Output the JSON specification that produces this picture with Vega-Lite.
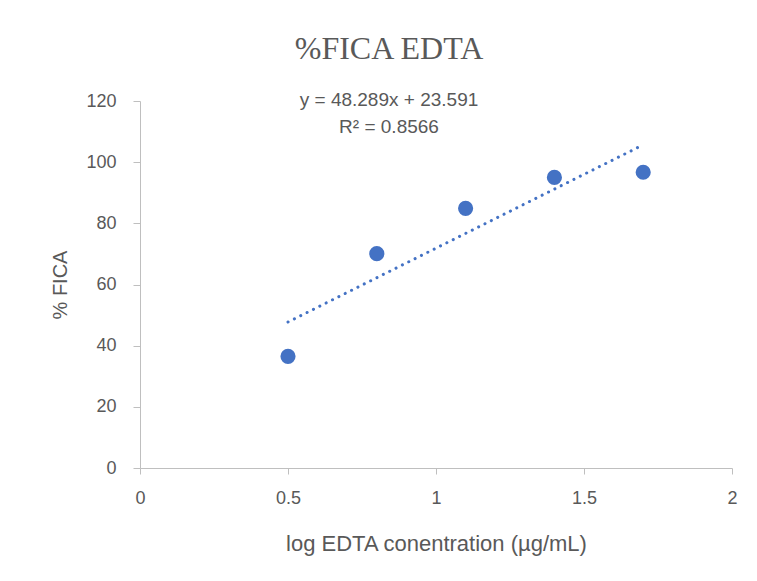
{
  "$schema": "https://vega.github.io/schema/vega-lite/v6.json",
  "width": 592,
  "height": 367,
  "autosize": {"type": "none"},
  "padding": {"left": 140, "top": 101, "right": 25, "bottom": 113},
  "background": "white",
  "title": {
    "text": "%FICA EDTA",
    "subtitle": ["y = 48.289x + 23.591", "R² = 0.8566"],
    "font": "Liberation Serif",
    "fontSize": 32,
    "fontWeight": "normal",
    "color": "#595959",
    "subtitleFont": "Liberation Sans",
    "subtitleFontSize": 19,
    "subtitleColor": "#595959",
    "subtitleLineHeight": 27,
    "subtitlePadding": 25,
    "anchor": "middle",
    "dx": -47,
    "offset": -46
  },
  "config": {"view": {"stroke": null}},
  "layer": [
    {
      "data": {"values": [
        {"x": 0.5, "y": 47.74},
        {"x": 1.7, "y": 105.68}
      ]},
      "mark": {"type": "line", "color": "#4472C4", "strokeWidth": 3, "strokeDash": [0.1, 7], "strokeCap": "round"},
      "encoding": {
        "x": {"field": "x", "type": "quantitative"},
        "y": {"field": "y", "type": "quantitative"}
      }
    },
    {
      "data": {"values": [
        {"x": 0.5, "y": 36.5},
        {"x": 0.8, "y": 70.1},
        {"x": 1.1, "y": 84.9},
        {"x": 1.4, "y": 95.0},
        {"x": 1.7, "y": 96.7}
      ]},
      "mark": {"type": "circle", "size": 230, "color": "#4472C4", "opacity": 1},
      "encoding": {
        "x": {
          "field": "x", "type": "quantitative",
          "scale": {"domain": [0, 2], "nice": false, "zero": false},
          "axis": {
            "title": "log EDTA conentration (µg/mL)",
            "values": [0, 0.5, 1, 1.5, 2],
            "format": "~g",
            "grid": false,
            "domainColor": "#BFBFBF",
            "tickColor": "#BFBFBF",
            "tickSize": 6,
            "labelFont": "Liberation Sans",
            "labelFontSize": 18,
            "labelColor": "#595959",
            "labelPadding": 15,
            "labelOverlap": false,
            "labelFlush": false,
            "titleFont": "Liberation Sans",
            "titleFontSize": 22,
            "titleFontWeight": "normal",
            "titleColor": "#595959",
            "titleBaseline": "alphabetic",
            "titleY": 82
          }
        },
        "y": {
          "field": "y", "type": "quantitative",
          "scale": {"domain": [0, 120], "nice": false},
          "axis": {
            "title": "% FICA",
            "values": [0, 20, 40, 60, 80, 100, 120],
            "grid": false,
            "domainColor": "#BFBFBF",
            "tickColor": "#BFBFBF",
            "tickSize": 7,
            "labelFont": "Liberation Sans",
            "labelFontSize": 18,
            "labelColor": "#595959",
            "labelPadding": 17,
            "labelOverlap": false,
            "labelFlush": false,
            "titleFont": "Liberation Sans",
            "titleFontSize": 20,
            "titleFontWeight": "normal",
            "titleColor": "#595959",
            "titleAngle": 270,
            "titleAlign": "center",
            "titleBaseline": "middle",
            "titleX": -80,
            "titleY": 183.5
          }
        }
      }
    }
  ]
}
